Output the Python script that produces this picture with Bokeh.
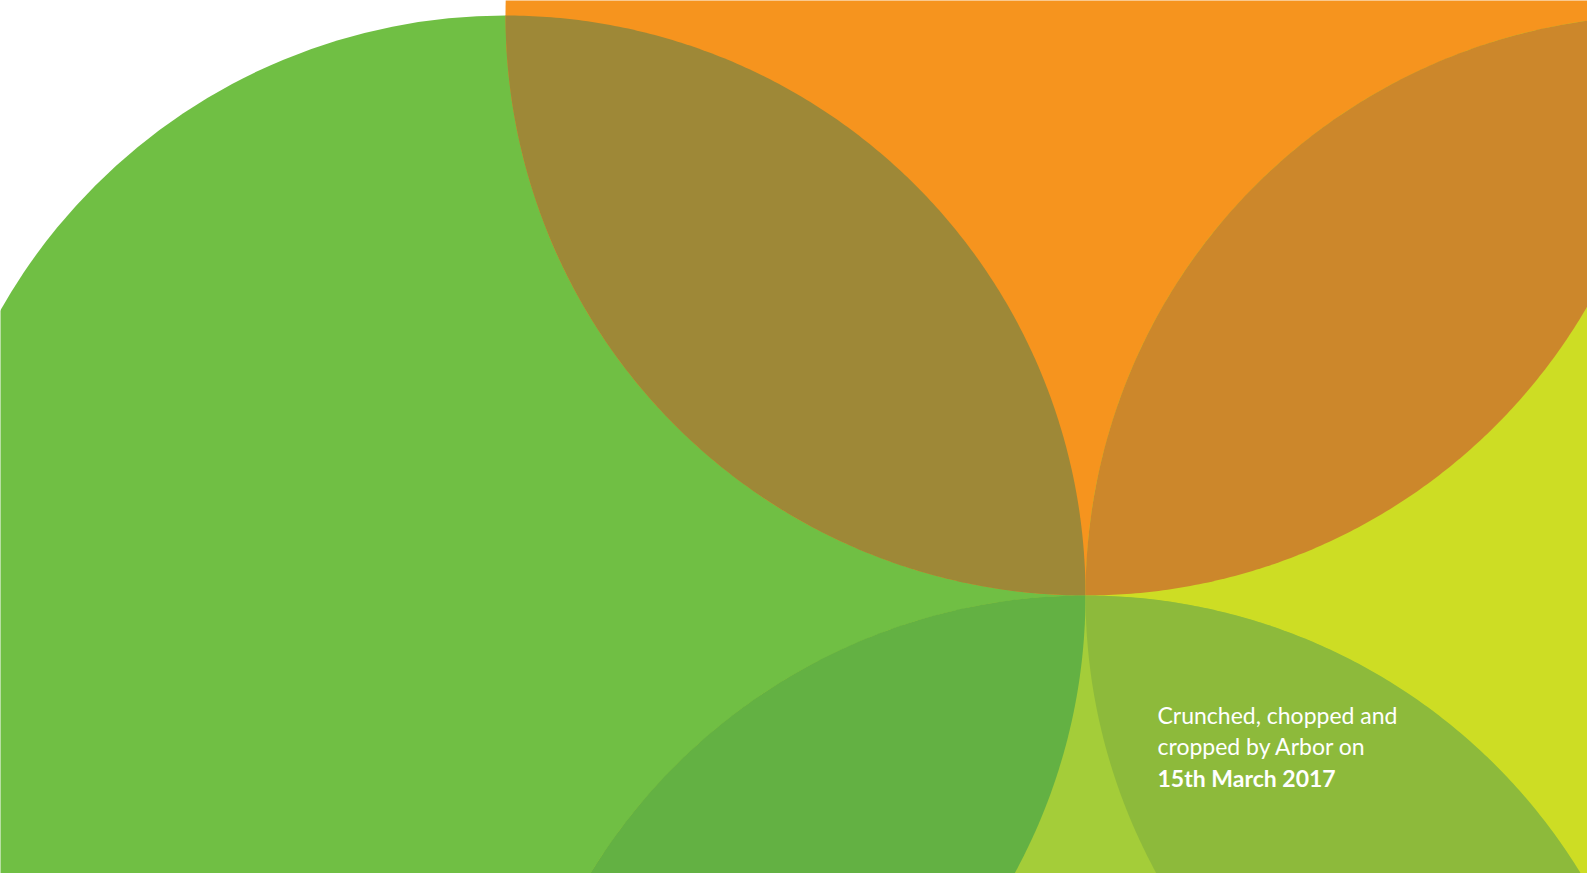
import numpy as np
from bokeh.plotting import figure
from bokeh.models import Range1d, Label
from bokeh.embed import file_html
from bokeh.resources import INLINE

# Circles (centre x, centre y in picture pixels, y downward), shared radius
circle_names = ["green", "orange", "yellow", "lime"]
circle_cx = [505, 1085, 1665, 1085]
circle_cy = [595, 15, 595, 1175]
circle_r = [580, 580, 580, 580]
circle_colors = ["#70BF44", "#F6941E", "#CDDD24", "#A4CD39"]

# Overlaps between pairs of circles and their colours
lens_pairs = [(0, 1), (1, 2), (0, 3), (2, 3)]
lens_colors = ["#9E8837", "#CC872B", "#63B143", "#8DBA3B"]

note_lines = ["Crunched, chopped and", "cropped by Arbor on", "15th March 2017"]
note_bold = [False, False, True]


def lens(i, j, n=200):
    x1, y1, r1 = circle_cx[i], circle_cy[i], circle_r[i]
    x2, y2, r2 = circle_cx[j], circle_cy[j], circle_r[j]
    d = np.hypot(x2 - x1, y2 - y1)
    a = (d * d + r1 * r1 - r2 * r2) / (2 * d)
    th = np.arctan2(y2 - y1, x2 - x1)
    a1 = np.arccos(a / r1)
    a2 = np.arccos((d - a) / r2)
    t1 = np.linspace(th - a1, th + a1, n)
    t2 = np.linspace(th + np.pi - a2, th + np.pi + a2, n)
    xs = np.concatenate([x1 + r1 * np.cos(t1), x2 + r2 * np.cos(t2)])
    ys = np.concatenate([y1 + r1 * np.sin(t1), y2 + r2 * np.sin(t2)])
    return xs, ys


p = figure(width=1587, height=873, x_range=Range1d(0, 1587), y_range=Range1d(873, 0),
           output_backend="svg", toolbar_location=None, min_border=0)
p.axis.visible = False
p.grid.visible = False
p.outline_line_color = None
p.background_fill_color = "white"
p.border_fill_color = "white"

p.circle(x=circle_cx, y=circle_cy, radius=circle_r, fill_color=circle_colors,
         line_color=None)

lx, ly = [], []
for (i, j) in lens_pairs:
    xs, ys = lens(i, j)
    lx.append(xs.tolist())
    ly.append(ys.tolist())
p.patches(xs=lx, ys=ly, fill_color=lens_colors, line_color=None)

for k, (t, b) in enumerate(zip(note_lines, note_bold)):
    p.add_layout(Label(x=1157, y=714 + 31.5 * k, text=t, text_color="white",
                       text_font="Lato", text_font_size="23px",
                       text_font_style="bold" if b else "normal",
                       text_baseline="alphabetic"))

open("out.html", "w").write(file_html(p, INLINE))
